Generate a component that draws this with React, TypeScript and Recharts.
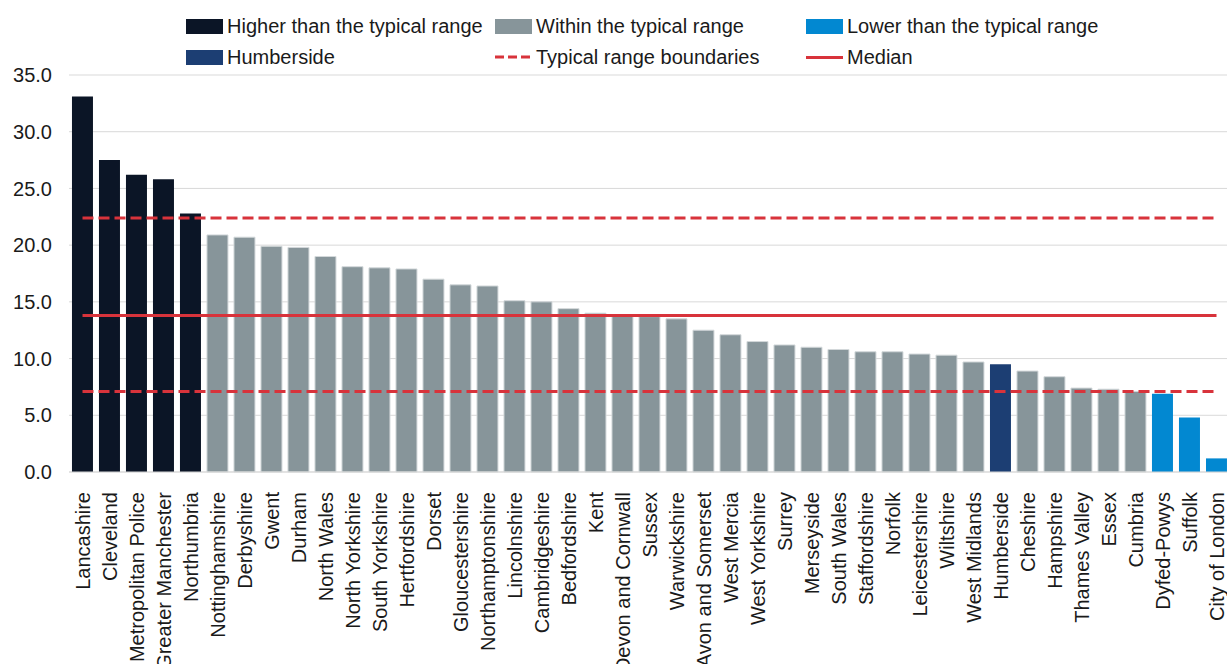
import React from 'react'
import { BarChart, Bar, Cell, XAxis, YAxis, CartesianGrid, ReferenceLine } from 'recharts'

const forces = [
  'Lancashire', 'Cleveland', 'Metropolitan Police', 'Greater Manchester', 'Northumbria',
  'Nottinghamshire', 'Derbyshire', 'Gwent', 'Durham', 'North Wales', 'North Yorkshire',
  'South Yorkshire', 'Hertfordshire', 'Dorset', 'Gloucestershire', 'Northamptonshire',
  'Lincolnshire', 'Cambridgeshire', 'Bedfordshire', 'Kent', 'Devon and Cornwall', 'Sussex',
  'Warwickshire', 'Avon and Somerset', 'West Mercia', 'West Yorkshire', 'Surrey', 'Merseyside',
  'South Wales', 'Staffordshire', 'Norfolk', 'Leicestershire', 'Wiltshire', 'West Midlands',
  'Humberside', 'Cheshire', 'Hampshire', 'Thames Valley', 'Essex', 'Cumbria', 'Dyfed-Powys',
  'Suffolk', 'City of London',
]

const rates = [
  33.1, 27.5, 26.2, 25.8, 22.8,
  20.9, 20.7, 19.9, 19.8, 19.0, 18.1,
  18.0, 17.9, 17.0, 16.5, 16.4,
  15.1, 15.0, 14.4, 14.0, 13.8, 13.7,
  13.5, 12.5, 12.1, 11.5, 11.2, 11.0,
  10.8, 10.6, 10.6, 10.4, 10.3, 9.7,
  9.5, 8.9, 8.4, 7.4, 7.3, 7.1, 6.9,
  4.8, 1.2,
]

// h = higher, w = within, l = lower, x = Humberside
const groups = [
  'h', 'h', 'h', 'h', 'h',
  'w', 'w', 'w', 'w', 'w', 'w',
  'w', 'w', 'w', 'w', 'w',
  'w', 'w', 'w', 'w', 'w', 'w',
  'w', 'w', 'w', 'w', 'w', 'w',
  'w', 'w', 'w', 'w', 'w', 'w',
  'x', 'w', 'w', 'w', 'w', 'w', 'l',
  'l', 'l',
]

const yTicks = [0, 5, 10, 15, 20, 25, 30, 35]
const upperBound = 22.4
const lowerBound = 7.1
const median = 13.8

const colors: Record<string, string> = {
  h: '#0b1526',
  w: '#87959a',
  l: '#0288d1',
  x: '#1c3e73',
}
const red = '#d8333b'
const font = '"Liberation Sans", Arial, sans-serif'

const data = forces.map((name, i) => ({ name, value: rates[i], group: groups[i] }))

const XTick = (props: any) => {
  const { x, y, payload } = props
  return (
    <text
      transform={`translate(${x},${y + 12}) rotate(-90)`}
      textAnchor="end"
      dy="0.36em"
      fontSize={20}
      fontFamily={font}
      fill="#1a1a1a"
    >
      {payload.value}
    </text>
  )
}

const legendItems = [
  { label: 'Higher than the typical range', kind: 'box', color: colors.h, left: 186, top: 26 },
  { label: 'Within the typical range', kind: 'box', color: colors.w, left: 495, top: 26 },
  { label: 'Lower than the typical range', kind: 'box', color: colors.l, left: 806, top: 26 },
  { label: 'Humberside', kind: 'box', color: colors.x, left: 186, top: 57 },
  { label: 'Typical range boundaries', kind: 'dash', color: red, left: 495, top: 57 },
  { label: 'Median', kind: 'line', color: red, left: 806, top: 57 },
]

export default function App() {
  return (
    <div style={{ position: 'absolute', left: 0, top: 0, width: 1227, height: 664, overflow: 'hidden', background: '#fff' }}>
      {legendItems.map(item => (
        <div
          key={item.label}
          style={{
            position: 'absolute',
            left: item.left,
            top: item.top - 12,
            height: 24,
            display: 'flex',
            alignItems: 'center',
            fontFamily: font,
            fontSize: 20,
            color: '#1a1a1a',
            whiteSpace: 'nowrap',
          }}
        >
          {item.kind === 'box' && <div style={{ width: 37, height: 15, background: item.color }} />}
          {item.kind === 'line' && <div style={{ width: 37, height: 3, background: item.color }} />}
          {item.kind === 'dash' && (
            <svg width={37} height={4}>
              <line x1={0} y1={2} x2={37} y2={2} stroke={item.color} strokeWidth={3} strokeDasharray="9 4" />
            </svg>
          )}
          <span style={{ marginLeft: 4 }}>{item.label}</span>
        </div>
      ))}
      <BarChart
        width={1230}
        height={700}
        data={data}
        margin={{ top: 75, right: 0, bottom: 0, left: 0 }}
        barCategoryGap="11%"
        style={{ position: 'absolute', left: 0, top: 0 }}
      >
        <CartesianGrid vertical={false} stroke="#d9d9d9" />
        <XAxis
          dataKey="name"
          interval={0}
          height={228}
          tick={<XTick />}
          tickLine={false}
          axisLine={{ stroke: '#d9d9d9' }}
        />
        <YAxis
          width={69}
          domain={[0, 35]}
          ticks={yTicks}
          tickFormatter={(v: number) => v.toFixed(1)}
          tick={{ fontSize: 20, fontFamily: font, fill: '#1a1a1a' }}
          tickLine={false}
          tickSize={0}
          tickMargin={17}
          axisLine={false}
        />
        <Bar dataKey="value" isAnimationActive={false}>
          {data.map((d, i) => (
            <Cell key={i} fill={colors[d.group]} stroke={d.group === 'w' ? '#d3d8da' : 'none'} strokeWidth={1} />
          ))}
        </Bar>
        <ReferenceLine
          segment={[{ x: forces[0], y: upperBound }, { x: forces[forces.length - 1], y: upperBound }]}
          stroke={red}
          strokeWidth={3}
          strokeDasharray="11 5"
        />
        <ReferenceLine
          segment={[{ x: forces[0], y: lowerBound }, { x: forces[forces.length - 1], y: lowerBound }]}
          stroke={red}
          strokeWidth={3}
          strokeDasharray="11 5"
        />
        <ReferenceLine
          segment={[{ x: forces[0], y: median }, { x: forces[forces.length - 1], y: median }]}
          stroke={red}
          strokeWidth={3}
        />
      </BarChart>
    </div>
  )
}
